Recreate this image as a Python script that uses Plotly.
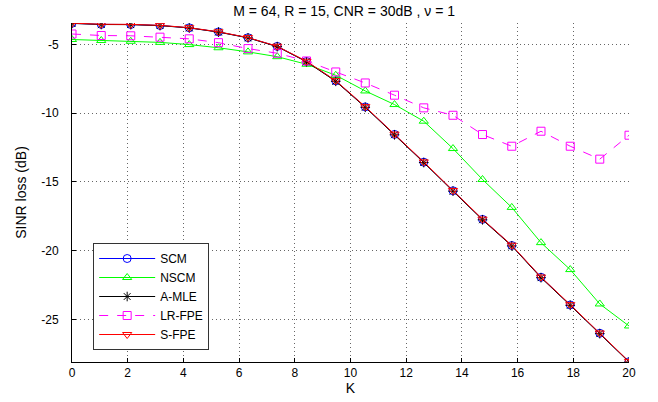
import plotly.graph_objects as go

K = [0, 1.05, 2.11, 3.16, 4.21, 5.26, 6.32, 7.37, 8.42, 9.47,
     10.53, 11.58, 12.63, 13.68, 14.74, 15.79, 16.84, 17.89, 18.95, 20]

scm = [-3.47, -3.55, -3.56, -3.63, -3.80, -4.10, -4.52, -5.15, -6.25, -7.66,
       -9.55, -11.55, -13.57, -15.65, -17.73, -19.63, -21.94, -23.95, -26.01, -28.08]
nscm = [-4.65, -4.72, -4.78, -4.86, -5.02, -5.25, -5.55, -5.90, -6.45, -7.25,
        -8.39, -9.38, -10.59, -12.58, -14.83, -16.86, -19.42, -21.38, -23.88, -25.48]
amle = [-3.48, -3.56, -3.57, -3.64, -3.81, -4.11, -4.53, -5.17, -6.27, -7.69,
        -9.58, -11.58, -13.60, -15.68, -17.76, -19.66, -21.97, -23.98, -26.04, -28.10]
lrfpe = [-4.25, -4.36, -4.38, -4.48, -4.60, -4.88, -5.31, -5.65, -6.21, -7.01,
         -7.81, -8.70, -9.62, -10.16, -11.56, -12.41, -11.32, -12.41, -13.35, -11.61]
sfpe = [-3.46, -3.54, -3.55, -3.62, -3.79, -4.09, -4.51, -5.14, -6.23, -7.64,
        -9.53, -11.53, -13.55, -15.63, -17.71, -19.61, -21.92, -23.93, -25.99, -28.06]

x_ticks = [0, 2, 4, 6, 8, 10, 12, 14, 16, 18, 20]
y_ticks = [-25, -20, -15, -10, -5]

series = [
    ("SCM", scm, "#0000FF", "circle-open", "solid"),
    ("NSCM", nscm, "#00FF00", "triangle-up-open", "solid"),
    ("A-MLE", amle, "#000000", "asterisk-open", "solid"),
    ("LR-FPE", lrfpe, "#FF00FF", "square-open", "dash"),
    ("S-FPE", sfpe, "#FF0000", "triangle-down-open", "solid"),
]

fig = go.Figure()
for name, vals, col, sym, dash in series:
    fig.add_trace(go.Scatter(
        x=K, y=vals, name=name, mode="lines+markers",
        line=dict(color=col, width=1, dash=dash),
        marker=dict(symbol=sym, size=8, color=col, line=dict(color=col, width=1)),
    ))

font = "Liberation Sans, Arial, sans-serif"
fig.update_layout(
    width=658, height=402,
    margin=dict(l=72, r=29, t=23, b=40, autoexpand=False),
    paper_bgcolor="white", plot_bgcolor="white",
    font=dict(family=font, size=12, color="#000000"),
    title=dict(text="M = 64, R = 15, CNR = 30dB , \u03bd = 1", x=0.523, xanchor="center",
               y=0.985, yanchor="top", font=dict(size=14)),
    showlegend=True,
    legend=dict(x=0.038, y=0.351, xanchor="left", yanchor="top",
                bgcolor="white", bordercolor="#333333", borderwidth=1,
                font=dict(size=12), tracegroupgap=0, itemwidth=56),
)
fig.update_xaxes(
    range=[0, 20], tickvals=x_ticks, ticktext=[str(v) for v in x_ticks],
    showline=True, linecolor="black", linewidth=1, mirror=False,
    ticks="inside", ticklen=4, tickcolor="black", automargin=False,
    showgrid=True, gridcolor="#666666", griddash="1px,3px", gridwidth=1,
    zeroline=False, title=dict(text="K", standoff=3),
)
fig.update_yaxes(
    range=[-28.1, -3.45], tickvals=y_ticks, ticktext=[str(v) for v in y_ticks],
    showline=True, linecolor="black", linewidth=1, mirror=False,
    ticks="inside", ticklen=4, tickcolor="black", automargin=False,
    ticklabelstandoff=10,
    showgrid=True, gridcolor="#666666", griddash="1px,3px", gridwidth=1,
    zeroline=False, title=dict(text="SINR loss (dB)", standoff=11),
)

fig.write_html("out.html", config={"displayModeBar": False},
               post_script="document.body.style.margin='0';document.body.style.overflow='hidden';")
